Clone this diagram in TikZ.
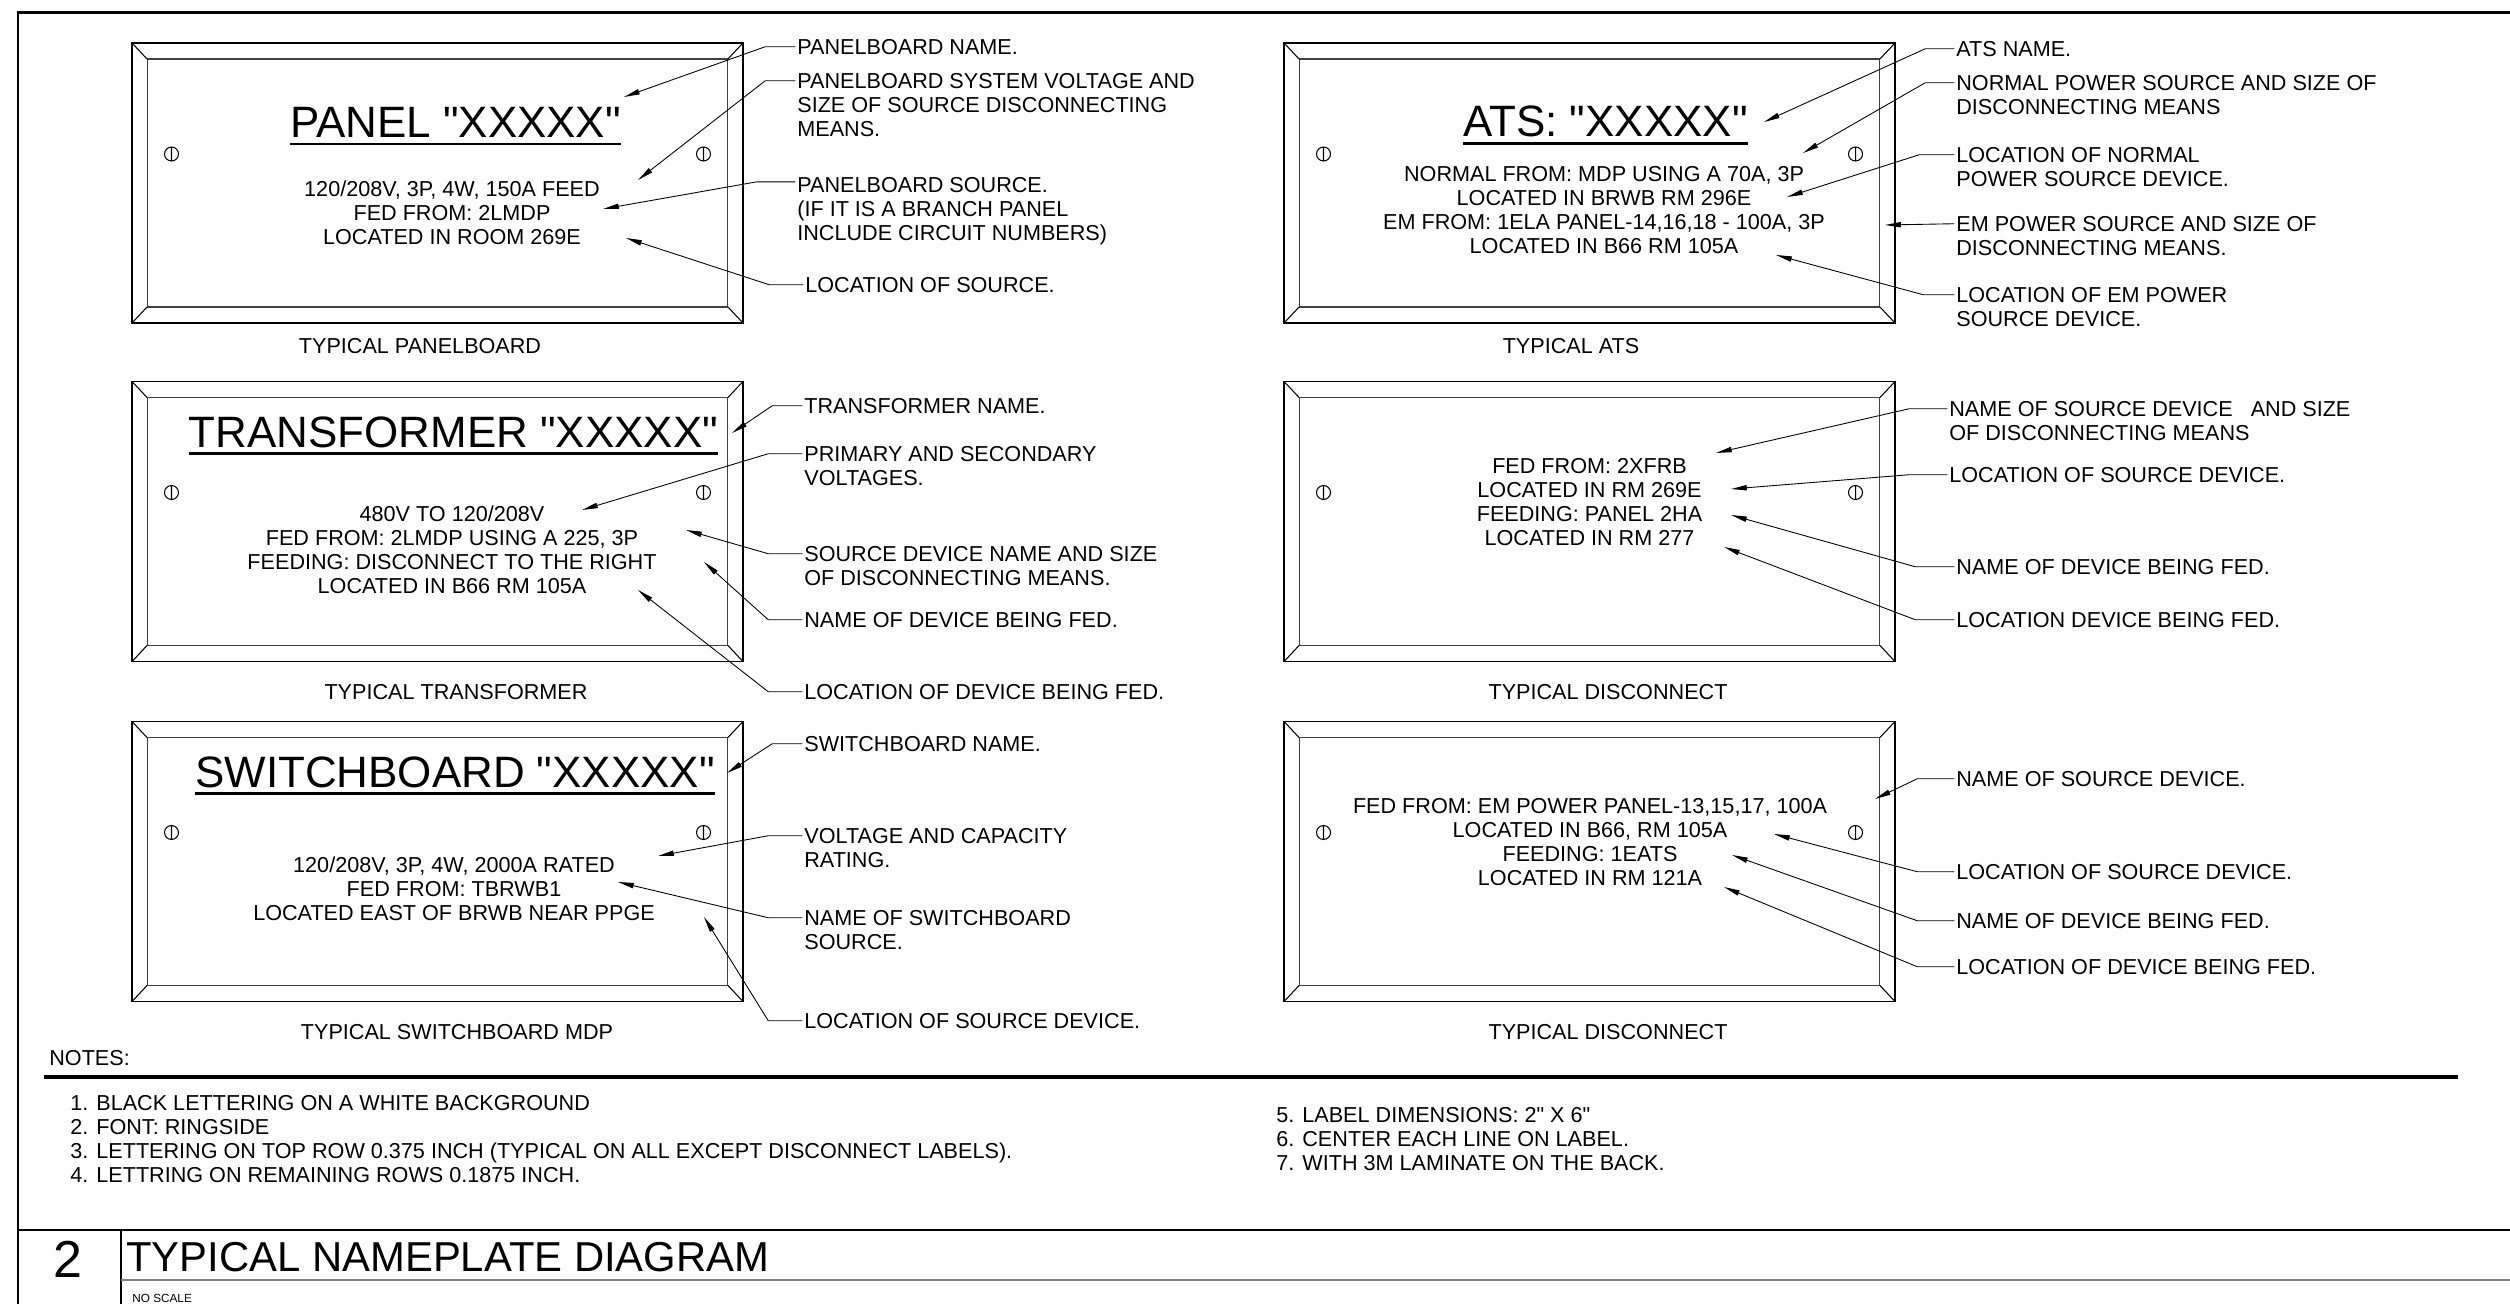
\documentclass[tikz,border=0pt]{standalone}
\usepackage{fontspec}
\setmainfont{Liberation Sans}[Ligatures=TeXOff]
\usepackage{tikz}
\usetikzlibrary{arrows.meta}
\newcommand{\lblfont}{\fontsize{12.3pt}{13.66pt}\selectfont}
\newcommand{\ttlfont}{\fontsize{25pt}{28pt}\selectfont}

\tikzset{
  plate/.style={draw, line width=0.7pt, minimum width=12.22cm, minimum height=5.6cm, inner sep=0pt, outer sep=0pt},
  platein/.style={draw=black!75, line width=0.6pt, minimum width=11.62cm, minimum height=4.96cm, inner sep=0pt, outer sep=0pt},
  bevel/.style={line width=0.6pt},
  screw/.style={line width=0.6pt},
  pname/.style={font=\ttlfont, inner sep=0pt, anchor=base},
  plabel/.style={font=\lblfont, inner sep=0pt, align=center, anchor=north},
  callout/.style={font=\lblfont, inner sep=0pt, align=left, anchor=north west},
  caption/.style={font=\lblfont, inner sep=0pt},
  lead/.style={line width=0.5pt, -{Triangle[length=9pt,width=3pt]}},
  uline/.style={line width=1.7pt}
}

\begin{document}
\begin{tikzpicture}[x=0.02cm, y=-0.02cm]
  \useasboundingbox (0,0) rectangle (2510,1304);

  % sheet frame
  \draw[line width=1.5pt] (18,1304) -- (18,12.5) -- (2510,12.5);

  % the six plates
  \foreach \n/\cx/\cy in {pnl/437.5/183, ats/1589.5/183, xfm/437.5/521.5, dsc/1589.5/521.5, swb/437.5/861.5, dscb/1589.5/861.5}{
    \node[plate] (\n) at (\cx,\cy) {};
    \node[platein] (\n-in) at (\cx,\cy) {};
    \foreach \c in {north west,north east,south west,south east}
      \draw[bevel] (\n.\c) -- (\n-in.\c);
    \foreach \s in {-266,266}
      \draw[screw] (\cx+\s,\cy-29) circle[radius=7] (\cx+\s,\cy-36) -- (\cx+\s,\cy-22);
  }

  % panelboard
  \node[pname] (pnlT) at (455.5,137.5) {PANEL "XXXXX"};
  \draw[uline] ([yshift=-3.7pt]pnlT.base west) -- ([yshift=-3.7pt]pnlT.base east);
  \node[plabel] (pnlB) at (452,180) {120/208V, 3P, 4W, 150A FEED\\FED FROM: 2LMDP\\LOCATED IN ROOM 269E};
  \node[caption] (pnlC) at (420,346) {TYPICAL PANELBOARD};
  \node[callout] (pnl1) at (797,39) {PANELBOARD NAME.};
  \node[callout] (pnl2) at (797,73) {PANELBOARD SYSTEM VOLTAGE AND\\SIZE OF SOURCE DISCONNECTING\\MEANS.};
  \node[callout] (pnl3) at (797,177) {PANELBOARD SOURCE.\\(IF IT IS A BRANCH PANEL\\INCLUDE CIRCUIT NUMBERS)};
  \node[callout] (pnl4) at (805,277) {LOCATION OF SOURCE.};
  \coordinate (pnl1t) at (624,97);
  \coordinate (pnl2t) at (638,180);
  \coordinate (pnl3t) at (603,209);
  \coordinate (pnl4t) at (626,238);
  \draw[lead] ([xshift=-1pt,yshift=-4.4pt]pnl1.north west) -- ++(-30,0) -- (pnl1t);
  \draw[lead] ([xshift=-1pt,yshift=-4.4pt]pnl2.north west) -- ++(-30,0) -- (pnl2t);
  \draw[lead] ([xshift=-1pt,yshift=-2.8pt]pnl3.north west) -- ++(-39,0) -- (pnl3t);
  \draw[lead] ([xshift=-1pt,yshift=-4.4pt]pnl4.north west) -- ++(-34,0) -- (pnl4t);

  % ATS
  \node[pname] (atsT) at (1605.5,137) {ATS: "XXXXX"};
  \draw[uline] ([yshift=-3.7pt]atsT.base west) -- ([yshift=-3.7pt]atsT.base east);
  \node[plabel] (atsB) at (1604,166) {NORMAL FROM: MDP USING A 70A, 3P\\LOCATED IN BRWB RM 296E\\EM FROM: 1ELA PANEL-14,16,18 - 100A, 3P\\LOCATED IN B66 RM 105A};
  \node[caption] (atsC) at (1571,346) {TYPICAL ATS};
  \node[callout] (ats1) at (1956,41) {ATS NAME.};
  \node[callout] (ats2) at (1956,75) {NORMAL POWER SOURCE AND SIZE OF\\DISCONNECTING MEANS};
  \node[callout] (ats3) at (1956,147) {LOCATION OF NORMAL\\POWER SOURCE DEVICE.};
  \node[callout] (ats4) at (1956,216) {EM POWER SOURCE AND SIZE OF\\DISCONNECTING MEANS.};
  \node[callout] (ats5) at (1956,287) {LOCATION OF EM POWER\\SOURCE DEVICE.};
  \coordinate (ats1t) at (1764,122);
  \coordinate (ats2t) at (1803,153);
  \coordinate (ats3t) at (1787,197);
  \coordinate (ats4t) at (1885,225);
  \coordinate (ats5t) at (1776,255);
  \draw[lead] ([xshift=-1pt,yshift=-4.4pt]ats1.north west) -- ++(-29,0) -- (ats1t);
  \draw[lead] ([xshift=-1pt,yshift=-4.4pt]ats2.north west) -- ++(-29,0) -- (ats2t);
  \draw[lead] ([xshift=-1pt,yshift=-4.4pt]ats3.north west) -- ++(-35,0) -- (ats3t);
  \draw[lead] ([xshift=-1pt,yshift=-4.4pt]ats4.north west) -- (ats4t);
  \draw[lead] ([xshift=-1pt,yshift=-4.4pt]ats5.north west) -- ++(-31,0) -- (ats5t);

  % transformer
  \node[pname] (xfmT) at (453.5,447) {TRANSFORMER "XXXXX"};
  \draw[uline] ([yshift=-3.7pt]xfmT.base west) -- ([yshift=-3.7pt]xfmT.base east);
  \node[plabel] (xfmB) at (452,505) {480V TO 120/208V\\FED FROM: 2LMDP USING A 225, 3P\\FEEDING: DISCONNECT TO THE RIGHT\\LOCATED IN B66 RM 105A};
  \node[caption] (xfmC) at (456,692) {TYPICAL TRANSFORMER};
  \node[callout] (xfm1) at (804,398) {TRANSFORMER NAME.};
  \node[callout] (xfm2) at (804,446) {PRIMARY AND SECONDARY\\VOLTAGES.};
  \node[callout] (xfm3) at (804,546) {SOURCE DEVICE NAME AND SIZE\\OF DISCONNECTING MEANS.};
  \node[callout] (xfm4) at (804,612) {NAME OF DEVICE BEING FED.};
  \node[callout] (xfm5) at (804,684) {LOCATION OF DEVICE BEING FED.};
  \coordinate (xfm1t) at (732,433);
  \coordinate (xfm2t) at (582,510);
  \coordinate (xfm3t) at (686,530);
  \coordinate (xfm4t) at (704,562);
  \coordinate (xfm5t) at (638,590);
  \draw[lead] ([xshift=-1pt,yshift=-4.4pt]xfm1.north west) -- ++(-30,0) -- (xfm1t);
  \draw[lead] ([xshift=-1pt,yshift=-4.4pt]xfm2.north west) -- ++(-34,0) -- (xfm2t);
  \draw[lead] ([xshift=-1pt,yshift=-4.4pt]xfm3.north west) -- ++(-34,0) -- (xfm3t);
  \draw[lead] ([xshift=-1pt,yshift=-4.4pt]xfm4.north west) -- ++(-34,0) -- (xfm4t);
  \draw[lead] ([xshift=-1pt,yshift=-4.4pt]xfm5.north west) -- ++(-34,0) -- (xfm5t);

  % disconnect (upper)
  \node[plabel] (dscB) at (1589.5,458) {FED FROM: 2XFRB\\LOCATED IN RM 269E\\FEEDING: PANEL 2HA\\LOCATED IN RM 277};
  \node[caption] (dscC) at (1608,692) {TYPICAL DISCONNECT};
  \node[callout] (dsc1) at (1949,401) {NAME OF SOURCE DEVICE \ \ AND SIZE\\OF DISCONNECTING MEANS};
  \node[callout] (dsc2) at (1949,467) {LOCATION OF SOURCE DEVICE.};
  \node[callout] (dsc3) at (1956,559) {NAME OF DEVICE BEING FED.};
  \node[callout] (dsc4) at (1956,612) {LOCATION DEVICE BEING FED.};
  \coordinate (dsc1t) at (1716,453);
  \coordinate (dsc2t) at (1731,489);
  \coordinate (dsc3t) at (1731,515);
  \coordinate (dsc4t) at (1724,547);
  \draw[lead] ([xshift=-1pt,yshift=-4.4pt]dsc1.north west) -- ++(-38,0) -- (dsc1t);
  \draw[lead] ([xshift=-1pt,yshift=-4.4pt]dsc2.north west) -- ++(-38,0) -- (dsc2t);
  \draw[lead] ([xshift=-1pt,yshift=-4.4pt]dsc3.north west) -- ++(-39,0) -- (dsc3t);
  \draw[lead] ([xshift=-1pt,yshift=-4.4pt]dsc4.north west) -- ++(-39,0) -- (dsc4t);

  % switchboard
  \node[pname] (swbT) at (455,787) {SWITCHBOARD "XXXXX"};
  \draw[uline] ([yshift=-3.7pt]swbT.base west) -- ([yshift=-3.7pt]swbT.base east);
  \node[plabel] (swbB) at (454,856) {120/208V, 3P, 4W, 2000A RATED\\FED FROM: TBRWB1\\LOCATED EAST OF BRWB NEAR PPGE};
  \node[caption] (swbC) at (457,1032) {TYPICAL SWITCHBOARD MDP};
  \node[callout] (swb1) at (804,736) {SWITCHBOARD NAME.};
  \node[callout] (swb2) at (804,828) {VOLTAGE AND CAPACITY\\RATING.};
  \node[callout] (swb3) at (804,910) {NAME OF SWITCHBOARD\\SOURCE.};
  \node[callout] (swb4) at (804,1013) {LOCATION OF SOURCE DEVICE.};
  \coordinate (swb1t) at (727,773);
  \coordinate (swb2t) at (658,856);
  \coordinate (swb3t) at (618,882);
  \coordinate (swb4t) at (704,917);
  \draw[lead] ([xshift=-1pt,yshift=-4.4pt]swb1.north west) -- ++(-30,0) -- (swb1t);
  \draw[lead] ([xshift=-1pt,yshift=-4.4pt]swb2.north west) -- ++(-34,0) -- (swb2t);
  \draw[lead] ([xshift=-1pt,yshift=-4.4pt]swb3.north west) -- ++(-34,0) -- (swb3t);
  \draw[lead] ([xshift=-1pt,yshift=-4.4pt]swb4.north west) -- ++(-34,0) -- (swb4t);

  % disconnect (lower)
  \node[plabel] (dscbB) at (1590,798) {FED FROM: EM POWER PANEL-13,15,17, 100A\\LOCATED IN B66, RM 105A\\FEEDING: 1EATS\\LOCATED IN RM 121A};
  \node[caption] (dscbC) at (1608,1032) {TYPICAL DISCONNECT};
  \node[callout] (dscb1) at (1956,771) {NAME OF SOURCE DEVICE.};
  \node[callout] (dscb2) at (1956,864) {LOCATION OF SOURCE DEVICE.};
  \node[callout] (dscb3) at (1956,913) {NAME OF DEVICE BEING FED.};
  \node[callout] (dscb4) at (1956,959) {LOCATION OF DEVICE BEING FED.};
  \coordinate (dscb1t) at (1875,799);
  \coordinate (dscb2t) at (1774,834);
  \coordinate (dscb3t) at (1732,855);
  \coordinate (dscb4t) at (1724,887);
  \draw[lead] ([xshift=-1pt,yshift=-4.4pt]dscb1.north west) -- ++(-37,0) -- (dscb1t);
  \draw[lead] ([xshift=-1pt,yshift=-4.4pt]dscb2.north west) -- ++(-37,0) -- (dscb2t);
  \draw[lead] ([xshift=-1pt,yshift=-4.4pt]dscb3.north west) -- ++(-37,0) -- (dscb3t);
  \draw[lead] ([xshift=-1pt,yshift=-4.4pt]dscb4.north west) -- ++(-37,0) -- (dscb4t);

  % notes
  \node[caption, anchor=west] (notes) at (49,1058) {NOTES:};
  \draw[line width=2pt] (44,1077) -- (2458,1077);
  \node[callout] (noteL) at (70,1095) {1. BLACK LETTERING ON A WHITE BACKGROUND\\2. FONT: RINGSIDE\\3. LETTERING ON TOP ROW 0.375 INCH (TYPICAL ON ALL EXCEPT DISCONNECT LABELS).\\4. LETTRING ON REMAINING ROWS 0.1875 INCH.};
  \node[callout] (noteR) at (1276,1107) {5. LABEL DIMENSIONS: 2" X 6"\\6. CENTER EACH LINE ON LABEL.\\7. WITH 3M LAMINATE ON THE BACK.};

  % title block
  \draw[line width=1.2pt] (18,1230) -- (2510,1230);
  \draw[line width=0.9pt] (121,1230) -- (121,1304);
  \draw[line width=0.9pt, black!50] (121,1280) -- (2510,1280);
  \node[inner sep=0pt, anchor=base, font=\fontsize{29.6pt}{32pt}\selectfont] (num) at (68,1277) {2};
  \node[inner sep=0pt, anchor=base west, font=\fontsize{23.8pt}{26pt}\selectfont] (title) at (126,1271) {TYPICAL NAMEPLATE DIAGRAM};
  \node[inner sep=0pt, anchor=base west, font=\fontsize{6.7pt}{8pt}\selectfont] (scale) at (132,1302) {NO SCALE};
\end{tikzpicture}
\end{document}
